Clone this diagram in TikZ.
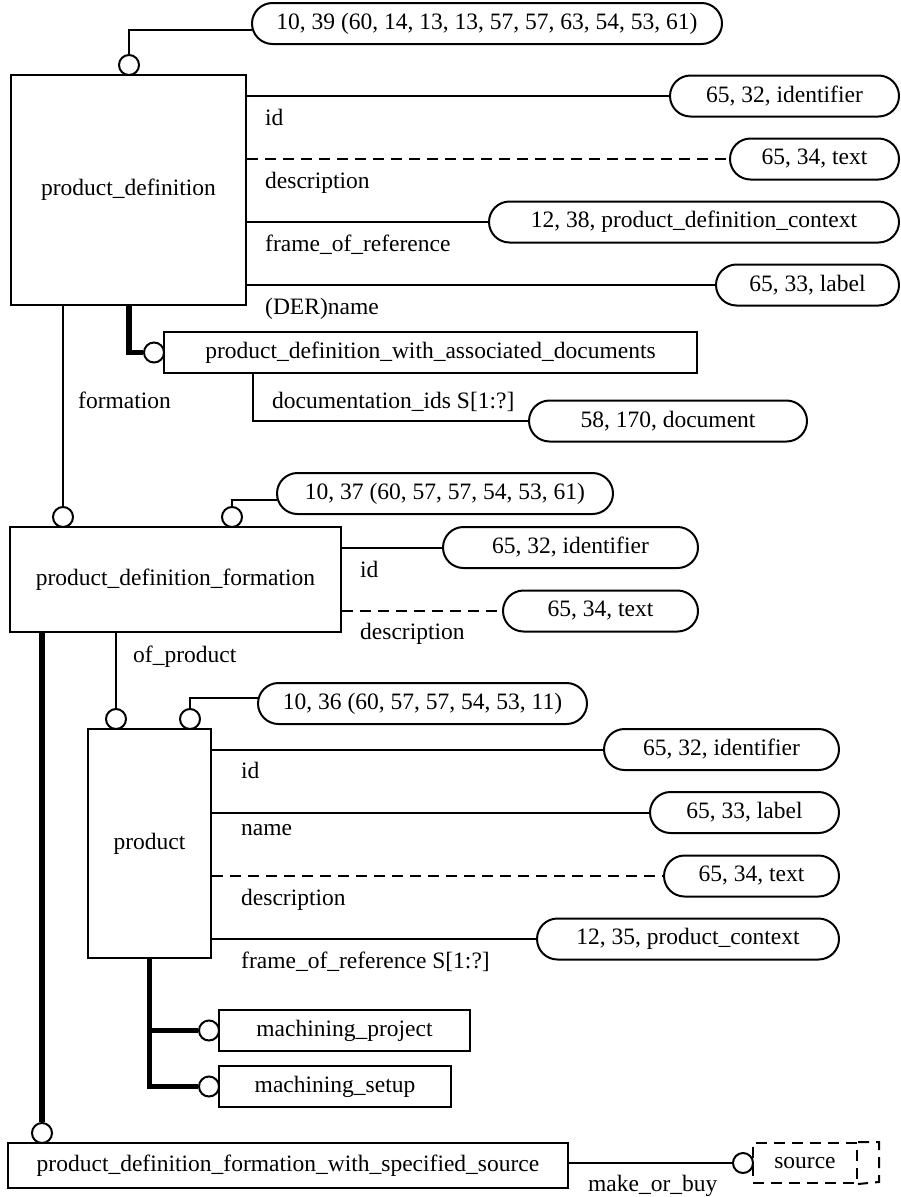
\documentclass[tikz,border=0pt]{standalone}
\usepackage{fontspec}
\setmainfont{Liberation Serif}
\usepackage{tikz}
\usetikzlibrary{shapes.misc,positioning,calc}
\tikzset{
  eg_ent/.style={
    draw, rectangle, line width=2pt, minimum height=41pt,
    inner sep=0pt, text centered, font=\fontsize{23.5}{28}\selectfont
  },
  eg_type/.style={
    draw, rounded rectangle, line width=2pt, minimum height=41pt,
    inner sep=0pt, text centered, font=\fontsize{23.5}{28}\selectfont
  },
  eg_circ/.style={
    draw, circle, fill=white, line width=2pt, minimum size=20pt, inner sep=0pt
  },
  eg_lbl/.style={anchor=base west, inner sep=0pt, font=\fontsize{23.5}{28}\selectfont},
  eg_rel/.style={line width=2pt},
  eg_opt/.style={line width=2pt, dash pattern=on 11pt off 7pt},
  eg_sub/.style={line width=5.5pt},
}
\begin{document}
\begin{tikzpicture}[x=1pt, y=-1pt]
\useasboundingbox (0,0) rectangle (901,1197);

% Entities
\node[eg_ent, minimum width=235pt, minimum height=230pt] (pd)     at (128.5,190)  {product\_definition};
\node[eg_ent, minimum width=533pt]                       (pdwad)  at (430.5,352.5){product\_definition\_with\_associated\_documents};
\node[eg_ent, minimum width=331pt, minimum height=105pt] (pdf)    at (175.5,579.5){product\_definition\_formation};
\node[eg_ent, minimum width=123pt, minimum height=229pt] (prod)   at (149.5,843.5){product};
\node[eg_ent, minimum width=251pt]                       (mproj)  at (344.5,1030.5){machining\_project};
\node[eg_ent, minimum width=232pt]                       (msetup) at (335,1086.5) {machining\_setup};
\node[eg_ent, minimum width=560pt, minimum height=45pt]  (pdfwss) at (288,1165.5) {product\_definition\_formation\_with\_specified\_source};
\node[eg_ent, eg_opt, minimum width=104pt, minimum height=40pt] (src) at (805,1163) {source};
\draw[eg_opt] (src.north east) -- ++(21,0) -- ++(0,40) -- (src.south east);

% Type references
\node[eg_type, minimum width=470pt] (t_pd)      at (487,23.5)  {10, 39 (60, 14, 13, 13, 57, 57, 63, 54, 53, 61)};
\node[eg_type, minimum width=229pt] (t_pdid)    at (784.5,96)  {65, 32, identifier};
\node[eg_type, minimum width=169pt] (t_pddesc)  at (814.5,159) {65, 34, text};
\node[eg_type, minimum width=410pt] (t_pdframe) at (694,222)   {12, 38, product\_definition\_context};
\node[eg_type, minimum width=183pt] (t_pdname)  at (807.5,285) {65, 33, label};
\node[eg_type, minimum width=278pt] (t_doc)     at (668,421)   {58, 170, document};
\node[eg_type, minimum width=336pt] (t_pdf)     at (445,493.5) {10, 37 (60, 57, 57, 54, 53, 61)};
\node[eg_type, minimum width=255pt] (t_pdfid)   at (570.5,547.5) {65, 32, identifier};
\node[eg_type, minimum width=195pt] (t_pdfdesc) at (600.5,611) {65, 34, text};
\node[eg_type, minimum width=329pt] (t_prod)    at (422.5,703.5) {10, 36 (60, 57, 57, 54, 53, 11)};
\node[eg_type, minimum width=235pt] (t_prid)    at (721.5,749.5) {65, 32, identifier};
\node[eg_type, minimum width=189pt] (t_prname)  at (744.5,812.5) {65, 33, label};
\node[eg_type, minimum width=175pt] (t_prdesc)  at (751.5,876) {65, 34, text};
\node[eg_type, minimum width=302pt] (t_prframe) at (688,939)   {12, 35, product\_context};

% Circles
\node[eg_circ] (c_pd)    at (129,65)  {};
\node[eg_circ] (c_wad)   at (154,352.5) {};
\node[eg_circ] (c_form)  at (63,517)  {};
\node[eg_circ] (c_pdf)   at (232,517) {};
\node[eg_circ] (c_ofpr)  at (116,719) {};
\node[eg_circ] (c_prod)  at (190,719) {};
\node[eg_circ] (c_mproj) at (209,1030.5) {};
\node[eg_circ] (c_msetup)at (209,1086.5) {};
\node[eg_circ] (c_wss)   at (42,1133) {};
\node[eg_circ] (c_src)   at (743,1163) {};

% Attribute lines
\draw[eg_rel] (c_pd.north) |- ($(t_pd.west)+(1,6)$);
\draw[eg_rel] (pd.east |- t_pdid.west) -- (t_pdid.west);
\draw[eg_opt] (pd.east |- t_pddesc.west) -- (t_pddesc.west);
\draw[eg_rel] (pd.east |- t_pdframe.west) -- (t_pdframe.west);
\draw[eg_rel] (pd.east |- t_pdname.west) -- (t_pdname.west);
\draw[eg_rel] ($(pdwad.south west)+(90,0)$) |- (t_doc.west);
\draw[eg_rel] (pd.south -| c_form) -- (c_form.north);
\draw[eg_rel] (c_pdf.north) |- ($(t_pdf.west)+(1,6)$);
\draw[eg_rel] (pdf.east |- t_pdfid.west) -- (t_pdfid.west);
\draw[eg_opt] (pdf.east |- t_pdfdesc.west) -- (t_pdfdesc.west);
\draw[eg_rel] (pdf.south -| c_ofpr) -- (c_ofpr.north);
\draw[eg_rel] (c_prod.north) |- ($(t_prod.west)+(1,-5.5)$);
\draw[eg_rel] (prod.east |- t_prid.west) -- (t_prid.west);
\draw[eg_rel] (prod.east |- t_prname.west) -- (t_prname.west);
\draw[eg_opt] (prod.east |- t_prdesc.west) -- (t_prdesc.west);
\draw[eg_rel] (prod.east |- t_prframe.west) -- (t_prframe.west);
\draw[eg_rel] (pdfwss.east |- c_src.west) -- (c_src.west);

% Subtype lines
\draw[eg_sub] (pd.south -| c_pd) |- (c_wad.west);
\draw[eg_sub] (pdf.south -| c_wss) -- (c_wss.north);
\draw[eg_sub] (prod.south) |- (c_msetup.west);
\draw[eg_sub] (prod.south |- c_mproj.west) -- (c_mproj.west);

% Labels
\node[eg_lbl] (l_pdid)    at (265,125) {id};
\node[eg_lbl] (l_pddesc)  at (265,188) {description};
\node[eg_lbl] (l_pdframe) at (265,251) {frame\_of\_reference};
\node[eg_lbl] (l_pdname)  at (265,314) {(DER)name};
\node[eg_lbl] (l_form)    at (78,408)  {formation};
\node[eg_lbl] (l_doc)     at (272,408) {documentation\_ids S[1:?]};
\node[eg_lbl] (l_pdfid)   at (360,577) {id};
\node[eg_lbl] (l_pdfdesc) at (360,639) {description};
\node[eg_lbl] (l_ofpr)    at (133,662) {of\_product};
\node[eg_lbl] (l_prid)    at (241,778) {id};
\node[eg_lbl] (l_prname)  at (241,835) {name};
\node[eg_lbl] (l_prdesc)  at (241,905) {description};
\node[eg_lbl] (l_prframe) at (241,968) {frame\_of\_reference S[1:?]};
\node[eg_lbl] (l_mob)     at (588,1191) {make\_or\_buy};

\end{tikzpicture}
\end{document}
